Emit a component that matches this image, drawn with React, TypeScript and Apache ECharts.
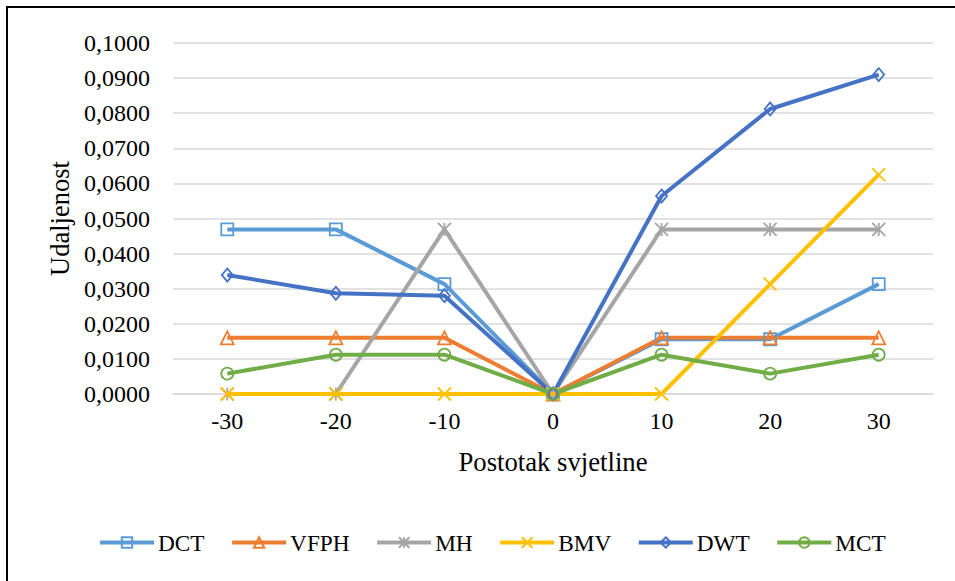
import React, { useEffect, useRef } from "react";
import * as echarts from "echarts";

const categories = ["-30", "-20", "-10", "0", "10", "20", "30"];
const seriesNames = ["DCT", "VFPH", "MH", "BMV", "DWT", "MCT"];
const dct = [0.0469, 0.0469, 0.0313, 0, 0.0156, 0.0156, 0.0313];
const vfph = [0.016, 0.016, 0.016, 0, 0.016, 0.016, 0.016];
const mh = [0, 0, 0.0469, 0, 0.0469, 0.0469, 0.0469];
const bmv = [0, 0, 0, 0, 0, 0.0313, 0.0625];
const dwt = [0.0339, 0.0287, 0.028, 0, 0.0564, 0.0812, 0.091];
const mct = [0.0058, 0.0112, 0.0112, 0, 0.0112, 0.0058, 0.0112];

const colors = ["#5B9BD5", "#ED7D31", "#A5A5A5", "#FFC000", "#4472C4", "#70AD47"];
const symbols = [
  "rect",
  "triangle",
  "path://M0 0L10 10M10 0L0 10M5 0L5 10",
  "path://M0 0L10 10M10 0L0 10",
  "diamond",
  "circle",
];
const symbolSizes: any[] = [12, 13, 13, 13, [11, 13], 12];

const FONT = "'Liberation Serif', 'Times New Roman', serif";

export default function App() {
  const ref = useRef<HTMLDivElement>(null);
  useEffect(() => {
    if (!ref.current) return;
    const chart = echarts.init(ref.current, undefined, { renderer: "svg" });
    const allData = [dct, vfph, mh, bmv, dwt, mct];
    chart.setOption({
      animation: false,
      backgroundColor: "#fff",
      textStyle: { fontFamily: FONT },
      graphic: [
        {
          type: "rect",
          shape: { x: 7, y: 7, width: 2000, height: 2000 },
          style: { fill: "none", stroke: "#000", lineWidth: 2 },
          silent: true,
          z: 100,
        },
      ],
      grid: { left: 173, right: 22, top: 43, bottom: 187, containLabel: false },
      legend: {
        left: 93,
        top: 526,
        itemWidth: 54,
        itemHeight: 13,
        itemGap: 25.5,
        lineStyle: { width: 4 },
        textStyle: { fontFamily: FONT, fontSize: 23.3, color: "#000", padding: [0, 0, 0, -1] },
        data: seriesNames.map((n) => ({ name: n, lineStyle: { width: 4 } })),
      },
      xAxis: {
        type: "category",
        data: categories,
        boundaryGap: true,
        name: "Postotak svjetline",
        nameLocation: "middle",
        nameGap: 54,
        nameTextStyle: { fontFamily: FONT, fontSize: 26.7, color: "#000" },
        axisTick: { show: false },
        axisLine: { lineStyle: { color: "#d9d9d9", width: 1.5 } },
        axisLabel: { fontFamily: FONT, fontSize: 24, color: "#000", margin: 15 },
        splitLine: { show: false },
      },
      yAxis: {
        type: "value",
        min: 0,
        max: 0.1,
        interval: 0.01,
        name: "Udaljenost",
        nameLocation: "middle",
        nameGap: 96,
        nameTextStyle: { fontFamily: FONT, fontSize: 26.5, color: "#000" },
        axisLine: { show: false },
        axisTick: { show: false },
        axisLabel: {
          fontFamily: FONT,
          fontSize: 24,
          color: "#000",
          margin: 23,
          formatter: (v: number) => v.toFixed(4).replace(".", ","),
        },
        splitLine: { lineStyle: { color: "#d9d9d9", width: 1.5 } },
      },
      series: seriesNames.map((name, i) => ({
        name,
        type: "line",
        data: allData[i],
        symbol: symbols[i],
        symbolSize: symbolSizes[i],
        showAllSymbol: true,
        color: colors[i],
        lineStyle: { color: colors[i], width: 4 },
        itemStyle: { color: "rgba(255,255,255,0)", borderColor: colors[i], borderWidth: 1.8 },
        emphasis: { disabled: true },
      })),
    });
    return () => chart.dispose();
  }, []);
  return (
    <div
      ref={ref}
      style={{ position: "fixed", left: 0, top: 0, width: 955, height: 581 }}
    />
  );
}
